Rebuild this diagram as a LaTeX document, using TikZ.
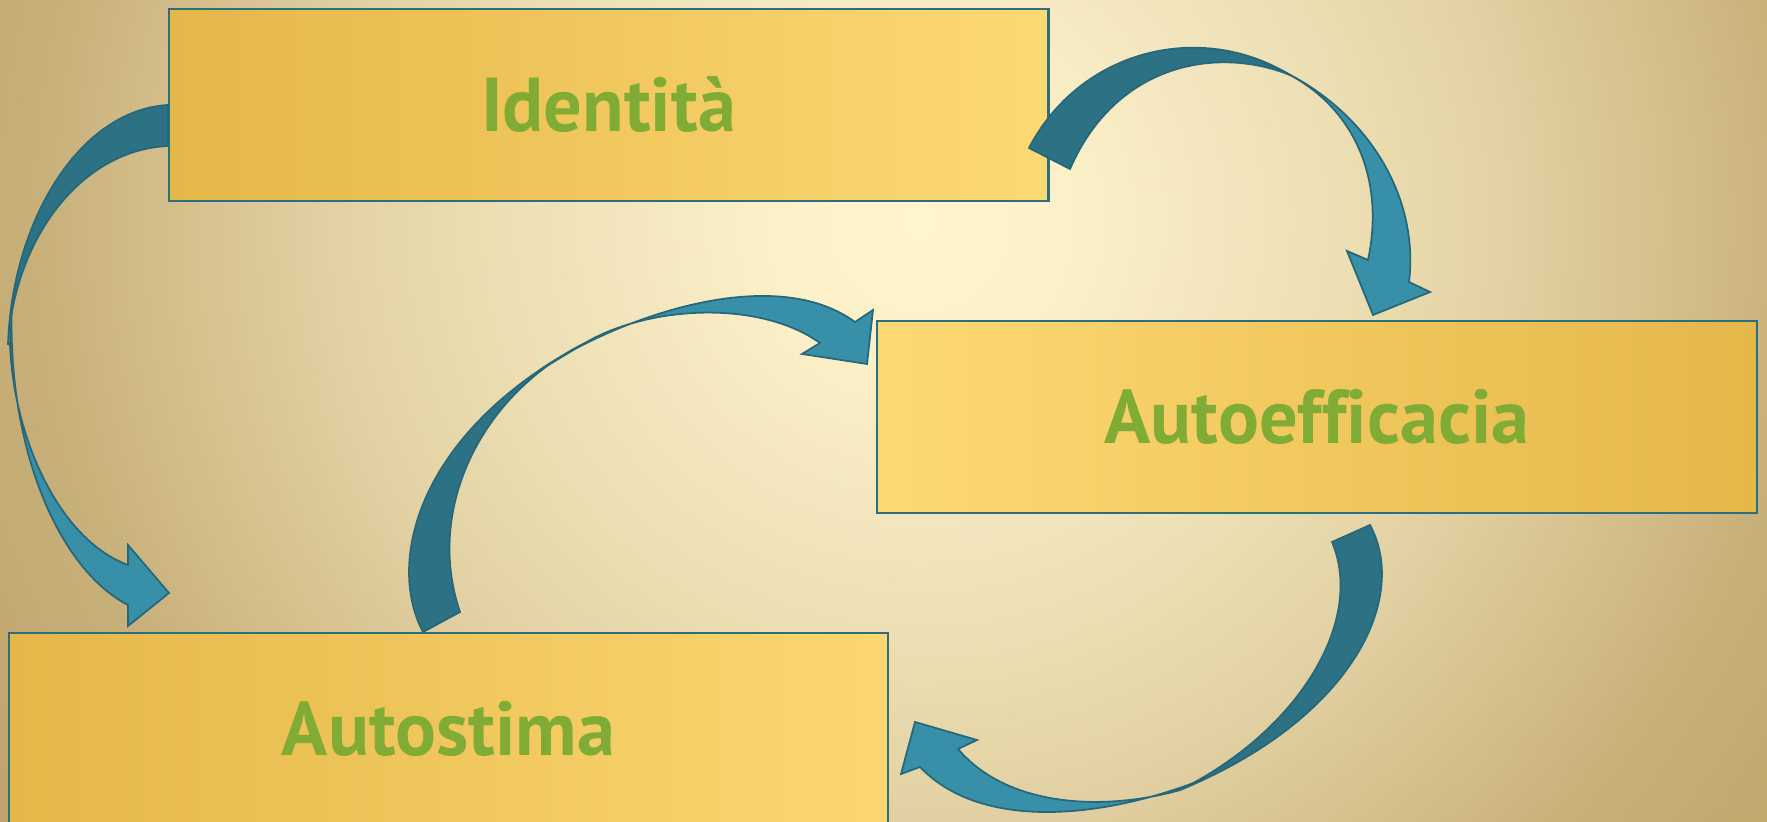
\documentclass[tikz,border=0pt]{standalone}
\usepackage{fontspec}
\setmainfont[Ligatures=CommonOff]{PT Sans}
\usepackage{tikz}
\definecolor{bgzero}{RGB}{255,244,206}
\definecolor{bgone}{RGB}{252,240,200}
\definecolor{bgtwo}{RGB}{243,230,190}
\definecolor{bgthree}{RGB}{235,221,176}
\definecolor{bgfour}{RGB}{225,208,162}
\definecolor{bgfive}{RGB}{214,193,143}
\definecolor{bgsix}{RGB}{200,176,122}
\definecolor{bgseven}{RGB}{191,163,105}
\definecolor{golddark}{RGB}{228,183,73}
\definecolor{goldlight}{RGB}{253,217,115}
\definecolor{boxline}{RGB}{42,110,128}
\definecolor{labelgreen}{RGB}{128,172,54}
\definecolor{arrowdark}{RGB}{44,114,132}
\definecolor{arrowlight}{RGB}{56,144,168}
\definecolor{arrowline}{RGB}{38,104,122}
\pgfdeclareradialshading{bgglow}{\pgfpoint{0bp}{0bp}}{color(0bp)=(bgzero); color(3.4bp)=(bgone); color(6.8bp)=(bgtwo); color(10.2bp)=(bgthree); color(13.6bp)=(bgfour); color(16.6bp)=(bgfive); color(20bp)=(bgsix); color(25bp)=(bgseven); color(50bp)=(bgseven)}

\begin{document}
\begin{tikzpicture}[x=0.01cm,y=0.01cm]
\tikzstyle{every node}+=[inner sep=0pt]
\tikzstyle{box}=[draw=boxline, line width=0.7pt, minimum width=8.79cm, minimum height=1.92cm, text=labelgreen, font=\fontsize{21.7}{26}\selectfont\bfseries]
\tikzstyle{backband}=[fill=arrowdark, draw=arrowline, line width=0.5pt]
\tikzstyle{frontband}=[fill=arrowlight, draw=arrowline, line width=0.5pt]
\useasboundingbox (0,0) rectangle (1767,-822);
\clip (0,0) rectangle (1767,-822);
\shade [shading=bgglow] (920,-220) circle [radius=11cm];
\node [box, left color=golddark, right color=goldlight] (identita) at (608.5,-105) {Identità};
\node [box, left color=goldlight, right color=golddark] (autoeff) at (1317,-417) {Autoefficacia};
\node [box, left color=golddark, right color=goldlight!93!golddark] (autostima) at (448.5,-729) {Autostima};
\draw [backband] (168,-105) .. controls (80,-110) and (12,-220) .. (8,-345) .. controls (14,-240) and (80,-150) .. (168,-146) -- cycle;
\draw [frontband] (12,-301) .. controls (6,-450) and (60,-570) .. (128,-605) -- (128,-626) -- (169,-593) -- (128,-545) -- (128,-565) .. controls (60,-540) and (14,-440) .. (10,-345) -- cycle;
\draw [backband] (1029,-148) .. controls (1080,-50) and (1200,-20) .. (1290,-75) .. controls (1215,-45) and (1115,-65) .. (1070,-169) -- cycle;
\draw [frontband] (1262,-62) .. controls (1360,-100) and (1420,-190) .. (1409,-282) -- (1430,-292) -- (1373,-315) -- (1347,-251) -- (1368,-260) .. controls (1385,-180) and (1355,-110) .. (1290,-75) -- cycle;
\draw [backband] (423,-632) .. controls (385,-560) and (420,-430) .. (585,-343) .. controls (480,-395) and (425,-510) .. (460,-612) -- cycle;
\draw [frontband] (540,-370) .. controls (610,-322) and (770,-260) .. (855,-322) -- (873,-310) -- (867,-364) -- (802,-354) -- (820,-343) .. controls (760,-300) and (650,-305) .. (585,-343) -- cycle;
\draw [backband] (1370,-525) .. controls (1410,-600) and (1350,-720) .. (1180,-790) .. controls (1300,-730) and (1365,-620) .. (1332,-542) -- cycle;
\draw [frontband] (1204,-779) .. controls (1100,-820) and (980,-830) .. (920,-767) -- (901,-774) -- (915,-722) -- (977,-740) -- (958,-749) .. controls (1010,-810) and (1110,-810) .. (1180,-790) -- cycle;
\end{tikzpicture}
\end{document}
